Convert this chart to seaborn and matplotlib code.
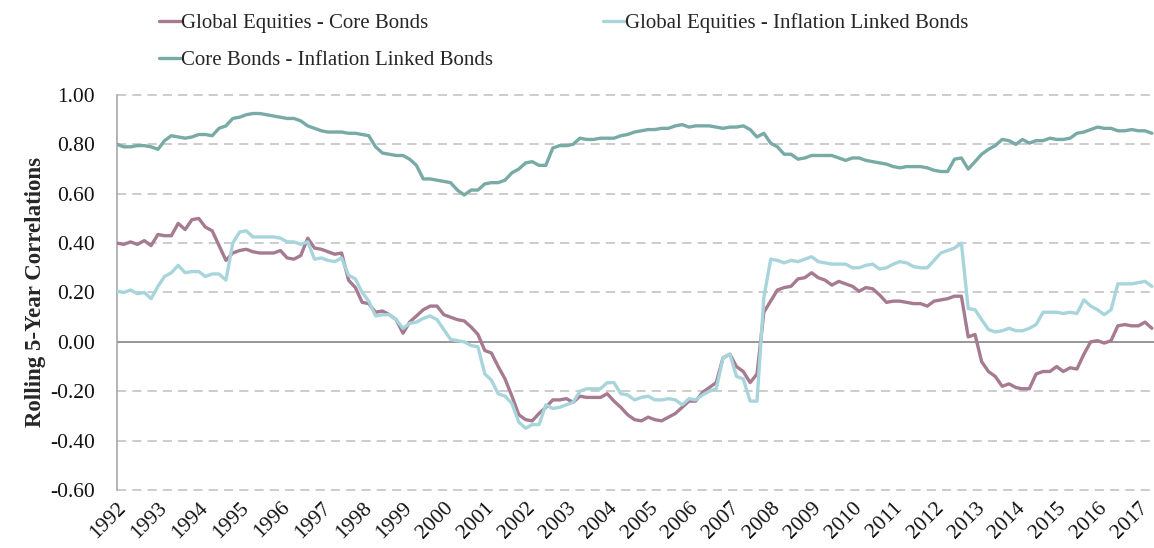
import pandas as pd
import numpy as np
import matplotlib
matplotlib.use('Agg')
import matplotlib.pyplot as plt
import seaborn as sns

# Rolling 5-year correlations, every two months (Jan 1992 - May 2017)
dates = pd.date_range('1992-01-01', periods=153, freq='2MS')

ge_core = [
    0.40, 0.395, 0.405, 0.395, 0.41, 0.39, 0.435, 0.43, 0.43, 0.48,
    0.455, 0.495, 0.50, 0.465, 0.45, 0.39, 0.33, 0.36, 0.37, 0.375,
    0.365, 0.36, 0.36, 0.36, 0.37, 0.34, 0.335, 0.35, 0.42, 0.38,
    0.375, 0.365, 0.355, 0.36, 0.25, 0.22, 0.16, 0.155, 0.12, 0.125,
    0.11, 0.09, 0.035, 0.08, 0.105, 0.13, 0.145, 0.145, 0.11, 0.10,
    0.09, 0.085, 0.06, 0.03, -0.035, -0.045, -0.10, -0.15, -0.22, -0.295,
    -0.315, -0.32, -0.29, -0.265, -0.235, -0.235, -0.23, -0.245, -0.22, -0.225,
    -0.225, -0.225, -0.21, -0.24, -0.265, -0.295, -0.315, -0.32, -0.305, -0.315,
    -0.32, -0.305, -0.29, -0.265, -0.24, -0.24, -0.205, -0.185, -0.165, -0.065,
    -0.05, -0.10, -0.12, -0.165, -0.13, 0.12, 0.165, 0.21, 0.22, 0.225,
    0.255, 0.26, 0.28, 0.26, 0.25, 0.23, 0.245, 0.235, 0.225, 0.205,
    0.22, 0.215, 0.19, 0.16, 0.165, 0.165, 0.16, 0.155, 0.155, 0.145,
    0.165, 0.17, 0.175, 0.185, 0.185, 0.02, 0.03, -0.08, -0.12, -0.14,
    -0.18, -0.17, -0.185, -0.19, -0.19, -0.13, -0.12, -0.12, -0.10, -0.12,
    -0.105, -0.11, -0.05, 0.00, 0.005, -0.005, 0.005, 0.065, 0.07, 0.065,
    0.065, 0.08, 0.055,
]

ge_ilb = [
    0.205, 0.20, 0.21, 0.195, 0.20, 0.175, 0.225, 0.265, 0.28, 0.31,
    0.28, 0.285, 0.285, 0.265, 0.275, 0.275, 0.25, 0.40, 0.445, 0.45,
    0.425, 0.425, 0.425, 0.425, 0.42, 0.405, 0.405, 0.395, 0.405, 0.335,
    0.34, 0.33, 0.325, 0.34, 0.27, 0.255, 0.20, 0.165, 0.105, 0.11,
    0.11, 0.09, 0.055, 0.075, 0.08, 0.095, 0.105, 0.09, 0.05, 0.01,
    0.005, 0.00, -0.015, -0.02, -0.13, -0.155, -0.21, -0.22, -0.25, -0.325,
    -0.35, -0.335, -0.335, -0.255, -0.27, -0.265, -0.255, -0.245, -0.20, -0.19,
    -0.19, -0.19, -0.165, -0.165, -0.21, -0.215, -0.235, -0.225, -0.22, -0.235,
    -0.235, -0.23, -0.235, -0.255, -0.23, -0.235, -0.215, -0.20, -0.19, -0.065,
    -0.05, -0.14, -0.15, -0.24, -0.24, 0.18, 0.335, 0.33, 0.32, 0.33,
    0.325, 0.335, 0.345, 0.325, 0.32, 0.315, 0.315, 0.315, 0.30, 0.30,
    0.31, 0.315, 0.295, 0.30, 0.315, 0.325, 0.32, 0.305, 0.30, 0.30,
    0.33, 0.36, 0.37, 0.38, 0.40, 0.135, 0.13, 0.09, 0.05, 0.04,
    0.045, 0.055, 0.045, 0.045, 0.055, 0.07, 0.12, 0.12, 0.12, 0.115,
    0.12, 0.115, 0.17, 0.145, 0.13, 0.11, 0.13, 0.235, 0.235, 0.235,
    0.24, 0.245, 0.225,
]

core_ilb = [
    0.80, 0.79, 0.79, 0.795, 0.795, 0.79, 0.78, 0.815, 0.835, 0.83,
    0.825, 0.83, 0.84, 0.84, 0.835, 0.865, 0.875, 0.905, 0.91, 0.92,
    0.925, 0.925, 0.92, 0.915, 0.91, 0.905, 0.905, 0.895, 0.875, 0.865,
    0.855, 0.85, 0.85, 0.85, 0.845, 0.845, 0.84, 0.835, 0.79, 0.765,
    0.76, 0.755, 0.755, 0.74, 0.715, 0.66, 0.66, 0.655, 0.65, 0.645,
    0.615, 0.595, 0.615, 0.615, 0.64, 0.645, 0.645, 0.655, 0.685, 0.70,
    0.725, 0.73, 0.715, 0.715, 0.785, 0.795, 0.795, 0.80, 0.825, 0.82,
    0.82, 0.825, 0.825, 0.825, 0.835, 0.84, 0.85, 0.855, 0.86, 0.86,
    0.865, 0.865, 0.875, 0.88, 0.87, 0.875, 0.875, 0.875, 0.87, 0.865,
    0.87, 0.87, 0.875, 0.86, 0.83, 0.845, 0.805, 0.79, 0.76, 0.76,
    0.74, 0.745, 0.755, 0.755, 0.755, 0.755, 0.745, 0.735, 0.745, 0.745,
    0.735, 0.73, 0.725, 0.72, 0.71, 0.705, 0.71, 0.71, 0.71, 0.705,
    0.695, 0.69, 0.69, 0.74, 0.745, 0.70, 0.73, 0.76, 0.78, 0.795,
    0.82, 0.815, 0.80, 0.82, 0.805, 0.815, 0.815, 0.825, 0.82, 0.82,
    0.825, 0.845, 0.85, 0.86, 0.87, 0.865, 0.865, 0.855, 0.855, 0.86,
    0.855, 0.855, 0.845,
]

series_names = [
    'Global Equities - Core Bonds',
    'Global Equities - Inflation Linked Bonds',
    'Core Bonds - Inflation Linked Bonds',
]
colors = ['#A67A90', '#A8D5DC', '#78AAA6']

y_ticks = [-0.6, -0.4, -0.2, 0.0, 0.2, 0.4, 0.6, 0.8, 1.0]
y_labels = ['-0.60', '-0.40', '-0.20', '0.00', '0.20', '0.40', '0.60', '0.80', '1.00']
years = list(range(1992, 2018))

df = pd.DataFrame({'Date': dates,
                   series_names[0]: ge_core,
                   series_names[1]: ge_ilb,
                   series_names[2]: core_ilb})
long_df = df.melt(id_vars='Date', var_name='Pair', value_name='Corr')

sns.set_theme(style='white')
plt.rcParams['font.family'] = ['Liberation Serif', 'DejaVu Serif']

fig = plt.figure(figsize=(11.54, 5.48), dpi=100)
ax = fig.add_axes([117 / 1154, 1 - 490 / 548, 1 - 117 / 1154, (490 - 95) / 548])

sns.lineplot(data=long_df, x='Date', y='Corr', hue='Pair', hue_order=series_names,
             palette=dict(zip(series_names, colors)), linewidth=2.4, ax=ax,
             legend=False, zorder=3)

ax.set_ylim(-0.6, 1.0)
ax.set_xlim(pd.Timestamp('1992-01-01'), pd.Timestamp('2017-05-20'))
ax.set_yticks(y_ticks)
ax.set_yticklabels(y_labels)
ax.set_xticks([pd.Timestamp(f'{y}-01-01') for y in years])
ax.set_xticklabels([str(y) for y in years], rotation=45, ha='right',
                   rotation_mode='anchor')

for v in y_ticks:
    if v == 0.0:
        ax.axhline(0, color='#8F8F8F', linewidth=1.3, zorder=2)
    else:
        ax.axhline(v, color='#BEBEBE', linewidth=1.1, linestyle=(0, (6, 4)),
                   zorder=1, clip_on=False)

for s in ['top', 'right', 'bottom']:
    ax.spines[s].set_visible(False)
ax.spines['left'].set_color('#A0A0A0')
ax.spines['left'].set_linewidth(1.1)

ax.tick_params(axis='y', length=0, pad=16, labelsize=15.5, labelcolor='#111111')
ax.tick_params(axis='x', length=0, pad=6, labelsize=15.5, labelcolor='#111111')
ax.set_xlabel('')
ax.set_ylabel('Rolling 5-Year Correlations', fontsize=16.5, fontweight='bold',
              labelpad=3)

handles = [plt.Line2D([], [], color=c, linewidth=2.4) for c in colors]
order = [0, 2, 1]
fig.legend([handles[i] for i in order], [series_names[i] for i in order],
           loc='upper left', bbox_to_anchor=(140 / 1154, 1.01), ncol=2,
           frameon=False, fontsize=15, handlelength=1.05, handletextpad=0.0,
           columnspacing=5.3, labelspacing=0.85)

fig.savefig('out.png', dpi=100)
